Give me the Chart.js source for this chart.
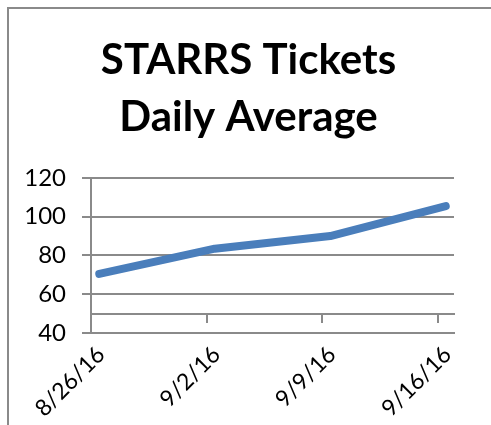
<!DOCTYPE html>
<html>
<head>
<meta charset="utf-8">
<script src="https://cdn.jsdelivr.net/npm/chart.js@4"></script>
<style>
  html, body { margin: 0; padding: 0; background: #ffffff; overflow: hidden; }
  #frame { position: absolute; left: 7px; top: 7px; width: 600px; height: 600px;
           border-left: 2px solid #8a8a8a; border-top: 2px solid #8a8a8a; }
  #wrap { position: absolute; left: 0; top: 0; width: 491px; height: 425px; }
</style>
</head>
<body>
<div id="frame"></div>
<div id="wrap"><canvas id="c" width="491" height="425"></canvas></div>
<script>
// ---- data ----
const categories = ['8/26/16', '9/2/16', '9/9/16', '9/16/16'];
const daysFromStart = [0, 7, 14, 21];
const dailyAverage = [70.5, 83.5, 90, 105.5];
const yTickValues = [40, 60, 80, 100, 120];
const titleLines = ['STARRS Tickets', 'Daily Average'];

const GRID = '#8a8a8a';
const FONT = 'Lato, "Open Sans", sans-serif';

const points = daysFromStart.map((d, i) => ({ x: d + 0.5, y: dailyAverage[i] }));
const catTicks = () => daysFromStart.map(d => ({ value: d }));
const labelFor = v => { const i = daysFromStart.indexOf(v); return i >= 0 ? categories[i] : ''; };

new Chart(document.getElementById('c'), {
  type: 'line',
  data: {
    datasets: [{
      data: points,
      borderColor: '#4a7ebb',
      borderWidth: 8,
      borderCapStyle: 'round',
      borderJoinStyle: 'round',
      pointRadius: 0,
      tension: 0,
      fill: false
    }]
  },
  options: {
    responsive: false,
    animation: false,
    events: [],
    layout: { padding: { left: 6, right: 0, top: 0, bottom: 0 } },
    plugins: {
      legend: { display: false },
      tooltip: { enabled: false },
      title: {
        display: true,
        text: titleLines,
        color: '#000',
        font: { family: FONT, size: 42, weight: 'bold', lineHeight: 1.38 },
        padding: { top: 31, bottom: 31 }
      }
    },
    scales: {
      x: {
        type: 'linear',
        min: 0,
        max: 22,
        afterBuildTicks: s => { s.ticks = catTicks(); },
        afterFit: s => { s.height = 92; },
        grid: { display: false },
        border: { display: true, color: GRID, width: 2 },
        ticks: {
          color: '#000',
          font: { family: FONT, size: 23 },
          minRotation: 45,
          maxRotation: 45,
          padding: 0,
          labelOffset: 10,
          callback: v => labelFor(v)
        }
      },
      x2: {
        type: 'linear',
        axis: 'x',
        position: { y: 50 },
        min: 0,
        max: 22,
        afterBuildTicks: s => { s.ticks = catTicks(); },
        grid: { display: true, drawOnChartArea: false, drawTicks: true, tickLength: 8, color: GRID, lineWidth: 2 },
        border: { display: true, color: GRID, width: 2 },
        ticks: { display: false }
      },
      y: {
        type: 'linear',
        min: 40,
        max: 120,
        afterBuildTicks: s => { s.ticks = yTickValues.map(v => ({ value: v })); },
        afterFit: s => { s.width = 85; },
        grid: { color: GRID, lineWidth: 2, drawTicks: true, tickLength: 9 },
        border: { display: true, color: GRID, width: 2 },
        ticks: {
          color: '#000',
          font: { family: FONT, size: 24 },
          padding: 16
        }
      },
      yRightSpace: {
        type: 'linear',
        axis: 'y',
        position: 'right',
        display: true,
        afterFit: s => { s.width = 37; },
        grid: { display: false },
        border: { display: false },
        ticks: { display: false }
      }
    }
  }
});
</script>
</body>
</html>
